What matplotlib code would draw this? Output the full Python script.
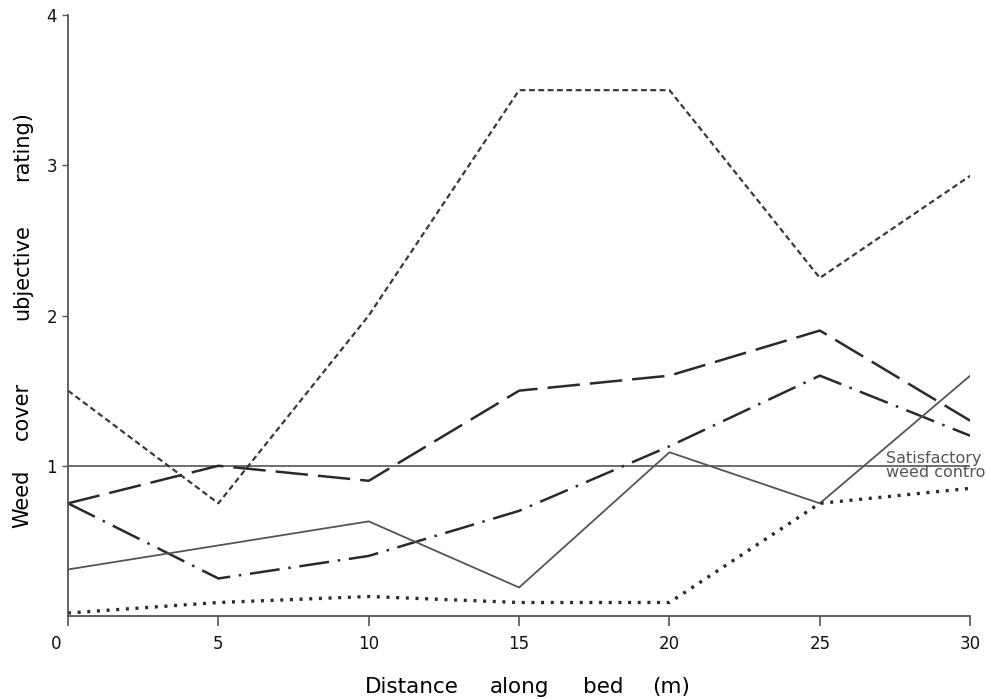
import matplotlib
matplotlib.use("Agg")
import matplotlib.pyplot as plt
from matplotlib.transforms import ScaledTranslation

# distance along bed (m) and weed cover ratings
distance = [0, 5, 10, 15, 20, 25, 30]
short_dash = [1.5, 0.75, 2.0, 3.5, 3.5, 2.25, 2.93]
long_dash = [0.75, 1.0, 0.9, 1.5, 1.6, 1.9, 1.3]
dash_dot = [0.75, 0.25, 0.4, 0.7, 1.13, 1.6, 1.2]
solid = [0.31, 0.47, 0.63, 0.19, 1.09, 0.75, 1.6]
dotted = [0.02, 0.09, 0.13, 0.09, 0.09, 0.75, 0.85]
threshold = 1.0

xlabel_words = ["Distance", "along", "bed", "(m)"]
ylabel_words = ["Weed", "cover", "ubjective", "rating)"]

fig = plt.figure(figsize=(9.87, 6.99), dpi=100)
ax = fig.add_axes([0.0689, 0.1187, 0.9141, 0.8598])

ink = "#2a2a2a"
grey = "#555555"

ax.axhline(threshold, color=grey, lw=1.2)
ax.plot(distance, short_dash, color="#3a3a3a", lw=1.6, dashes=(2.6, 1.6))
ax.plot(distance, long_dash, color=ink, lw=1.8, dashes=(13, 4))
ax.plot(distance, dash_dot, color=ink, lw=1.8, dashes=(12, 3.5, 1, 3.5))
ax.plot(distance, solid, color=grey, lw=1.3)
ax.plot(distance, dotted, color=ink, lw=2.4, dashes=(0.9, 2.0))

ax.text(27.2, threshold, "Satisfactory\nweed control", fontsize=11.5,
        color=grey, va="center", ha="left", linespacing=0.95, clip_on=False)

ax.set_xlim(0, 30)
ax.set_ylim(0, 4)
ax.set_xticks([0, 5, 10, 15, 20, 25, 30])
ax.set_yticks([1, 2, 3, 4])
for s in ["top", "right"]:
    ax.spines[s].set_visible(False)
for s in ["left", "bottom"]:
    ax.spines[s].set_color(grey)
    ax.spines[s].set_linewidth(1.3)
ax.tick_params(axis="x", length=7, width=1.2, pad=7, labelsize=12, colors=grey, labelcolor="#111111")
ax.tick_params(axis="y", length=4, width=1.0, pad=4, labelsize=12, colors=grey, labelcolor="#111111")

# the "0" label sits left of the origin in the scan
lab0 = ax.get_xticklabels()[0]
lab0.set_transform(lab0.get_transform() + ScaledTranslation(-0.12, 0, fig.dpi_scale_trans))

# axis titles are widely spaced words in the original
for word, xc in zip(xlabel_words, [412, 520, 603, 671]):
    fig.text(xc / 987, 0.009, word, fontsize=15.5, ha="center", va="baseline")
for word, yc in zip(ylabel_words, [499, 411, 272, 146]):
    fig.text(22 / 987, 1 - yc / 699, word, fontsize=15, rotation=90,
             ha="center", va="center")

fig.savefig("out.png", dpi=100)
